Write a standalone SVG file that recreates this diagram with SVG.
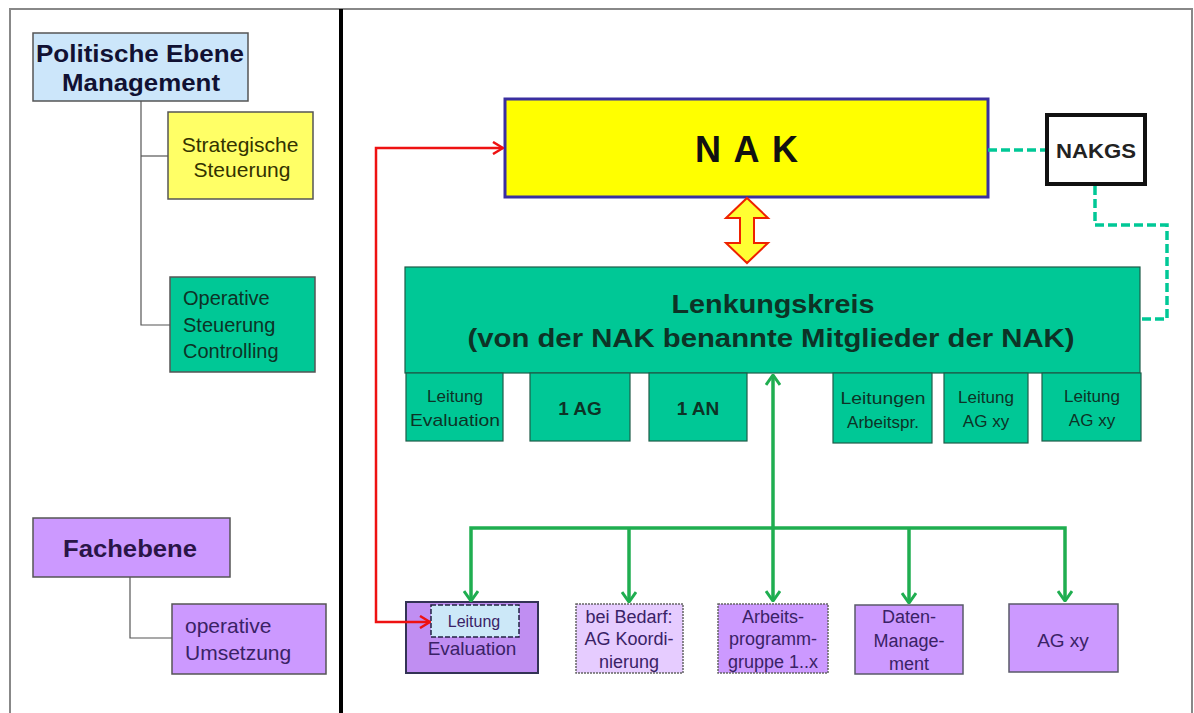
<svg xmlns="http://www.w3.org/2000/svg" width="1194" height="713" viewBox="0 0 1194 713">
<defs>
<style>
text{font-family:"Liberation Sans",Arial,sans-serif;}
.b{font-weight:bold;}
.mid{text-anchor:middle;}
.box{stroke:#555;stroke-width:1.5;}
.grn{fill:#00c896;stroke:#1d5c48;stroke-width:1.2;}
.pur{fill:#cc99ff;stroke:#5a5a6a;stroke-width:1.5;}
.tg{fill:#0d3326;}
.tp{fill:#3a2266;}
.tree{fill:none;stroke:#555;stroke-width:1.2;}
.garr{fill:none;stroke:#1fae50;stroke-width:3.5;}
.dash{fill:none;stroke:#00c896;stroke-width:3.5;stroke-dasharray:9,4;}
</style>
<marker id="ga" viewBox="0 0 12 16" refX="11" refY="8" markerWidth="12" markerHeight="16" markerUnits="userSpaceOnUse" orient="auto-start-reverse">
<path d="M1,1 L11,8 L1,15" fill="none" stroke="#1fae50" stroke-width="3"/>
</marker>
<marker id="ra" viewBox="0 0 12 14" refX="11" refY="7" markerWidth="12" markerHeight="14" markerUnits="userSpaceOnUse" orient="auto-start-reverse">
<path d="M1,1 L11,7 L1,13" fill="none" stroke="#ee1111" stroke-width="2.5"/>
</marker>
</defs>
<rect x="0" y="0" width="1194" height="713" fill="#ffffff"/>
<rect x="10" y="9" width="1182" height="720" fill="none" stroke="#888" stroke-width="2"/>
<line x1="341" y1="9" x2="341" y2="713" stroke="#000" stroke-width="4"/>

<g id="politische">
<rect class="box" x="33" y="33" width="215" height="68" fill="#cce6fa"/>
<text class="b mid" x="140" y="62" font-size="23" fill="#111133" textLength="208" lengthAdjust="spacingAndGlyphs">Politische Ebene</text>
<text class="b mid" x="141" y="91" font-size="23" fill="#111133" textLength="158" lengthAdjust="spacingAndGlyphs">Management</text>
</g>
<g id="strategische">
<rect class="box" x="168" y="112" width="145" height="87" fill="#ffff66"/>
<text class="mid" x="240" y="152" font-size="21" fill="#333300">Strategische</text>
<text class="mid" x="242" y="177" font-size="21" fill="#333300">Steuerung</text>
</g>
<g id="operative">
<rect class="box" x="170" y="277" width="145" height="95" fill="#00c896"/>
<text x="183" y="305" font-size="20" class="tg">Operative</text>
<text x="183" y="332" font-size="20" class="tg">Steuerung</text>
<text x="183" y="358" font-size="20" class="tg">Controlling</text>
</g>
<g id="fachebene">
<rect class="box" x="33" y="518" width="197" height="59" fill="#cc99ff"/>
<text class="b mid" x="130" y="557" font-size="23" fill="#2a1548" textLength="134" lengthAdjust="spacingAndGlyphs">Fachebene</text>
</g>
<g id="umsetzung">
<rect class="box" x="172" y="604" width="154" height="70" fill="#cc99ff"/>
<text x="185" y="633" font-size="21" class="tp">operative</text>
<text x="185" y="660" font-size="21" class="tp">Umsetzung</text>
</g>

<g id="nak">
<rect x="505" y="99" width="483" height="98" fill="#ffff00" stroke="#3a2fa0" stroke-width="3"/>
<text class="b" x="695" y="162" font-size="36" fill="#111" textLength="103" lengthAdjust="spacing">N A K</text>
</g>
<g id="nakgs">
<rect x="1047" y="115" width="98" height="69" fill="#fff" stroke="#111" stroke-width="4"/>
<text class="b mid" x="1096" y="158" font-size="20" fill="#222" textLength="80" lengthAdjust="spacingAndGlyphs">NAKGS</text>
</g>
<g id="lenkungskreis">
<rect class="grn" x="405" y="267" width="735" height="106"/>
<text class="b mid tg" x="773" y="313" font-size="25" textLength="203" lengthAdjust="spacingAndGlyphs">Lenkungskreis</text>
<text class="b mid tg" x="771" y="347" font-size="25" textLength="607" lengthAdjust="spacingAndGlyphs">(von der NAK benannte Mitglieder der NAK)</text>
</g>
<g id="leitung-evaluation">
<rect class="grn" x="406" y="373" width="97" height="68"/>
<text class="mid tg" x="455" y="402" font-size="17">Leitung</text>
<text class="mid tg" x="455" y="426" font-size="17" textLength="90" lengthAdjust="spacingAndGlyphs">Evaluation</text>
</g>
<g id="ag1">
<rect class="grn" x="530" y="373" width="100" height="68"/>
<text class="b mid tg" x="580" y="415" font-size="19">1 AG</text>
</g>
<g id="an1">
<rect class="grn" x="649" y="373" width="98" height="68"/>
<text class="b mid tg" x="698" y="415" font-size="19">1 AN</text>
</g>
<g id="leitungen-arbeitspr">
<rect class="grn" x="833" y="373" width="99" height="70"/>
<text class="mid tg" x="883" y="404" font-size="17" textLength="85" lengthAdjust="spacingAndGlyphs">Leitungen</text>
<text class="mid tg" x="883" y="428" font-size="17">Arbeitspr.</text>
</g>
<g id="leitung-agxy1">
<rect class="grn" x="944" y="373" width="84" height="70"/>
<text class="mid tg" x="986" y="403" font-size="17">Leitung</text>
<text class="mid tg" x="986" y="427" font-size="17">AG xy</text>
</g>
<g id="leitung-agxy2">
<rect class="grn" x="1042" y="373" width="99" height="68"/>
<text class="mid tg" x="1092" y="402" font-size="17">Leitung</text>
<text class="mid tg" x="1092" y="426" font-size="17">AG xy</text>
</g>

<g id="evaluation">
<rect x="406" y="602" width="132" height="71" fill="#c08ef2" stroke="#333355" stroke-width="2"/>
<rect x="431" y="605" width="88" height="32" fill="#cce8f8" stroke="#222244" stroke-width="1.5" stroke-dasharray="5,2"/>
<text class="mid tp" x="474" y="627" font-size="16">Leitung</text>
<text class="mid tp" x="472" y="655" font-size="19">Evaluation</text>
</g>
<g id="bedarf">
<rect x="576" y="604" width="107" height="69" fill="#e6ccff" stroke="#666" stroke-width="1.5" stroke-dasharray="2,1"/>
<text class="mid tp" x="629" y="623" font-size="18">bei Bedarf:</text>
<text class="mid tp" x="629" y="645" font-size="18">AG Koordi-</text>
<text class="mid tp" x="629" y="668" font-size="18">nierung</text>
</g>
<g id="arbeitsprogramm">
<rect x="718" y="604" width="110" height="69" fill="#cc99ff" stroke="#666" stroke-width="1.5" stroke-dasharray="2,1"/>
<text class="mid tp" x="773" y="623" font-size="18">Arbeits-</text>
<text class="mid tp" x="773" y="645" font-size="18">programm-</text>
<text class="mid tp" x="773" y="668" font-size="18">gruppe 1..x</text>
</g>
<g id="daten">
<rect class="pur" x="855" y="605" width="108" height="69"/>
<text class="mid tp" x="909" y="623" font-size="18">Daten-</text>
<text class="mid tp" x="909" y="647" font-size="18">Manage-</text>
<text class="mid tp" x="909" y="670" font-size="18">ment</text>
</g>
<g id="agxy">
<rect class="pur" x="1009" y="604" width="109" height="68"/>
<text class="mid tp" x="1063" y="647" font-size="19">AG xy</text>
</g>

<g id="connectors">
<polyline class="tree" points="141,101 141,325 170,325"/>
<line class="tree" x1="141" y1="156" x2="168" y2="156"/>
<polyline class="tree" points="130,577 130,638 172,638"/>
<polyline points="430,622 376,622 376,148 503,148" fill="none" stroke="#ee1111" stroke-width="2.5" marker-start="url(#ra)" marker-end="url(#ra)"/>
<polygon points="747,198 768,218 754,218 754,243 768,243 747,263 726,243 740,243 740,218 726,218" fill="#ffff33" stroke="#ee2200" stroke-width="2"/>
<polyline class="dash" points="988,150 1045,150"/>
<polyline class="dash" points="1095,186 1095,225 1167,225 1167,319 1141,319"/>
<line class="garr" x1="773" y1="601" x2="773" y2="375" marker-start="url(#ga)" marker-end="url(#ga)"/>
<polyline class="garr" points="471,601 471,528 1065,528 1065,601" marker-start="url(#ga)" marker-end="url(#ga)"/>
<line class="garr" x1="629" y1="528" x2="629" y2="602" marker-end="url(#ga)"/>
<line class="garr" x1="909" y1="528" x2="909" y2="603" marker-end="url(#ga)"/>
</g>
</svg>
